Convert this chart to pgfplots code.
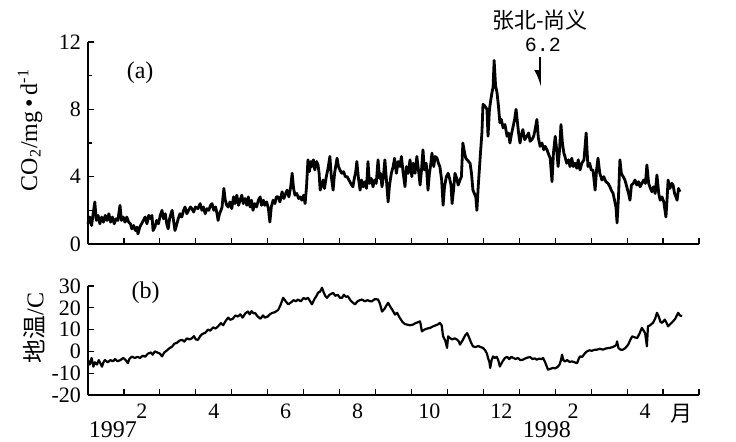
\documentclass[border=0pt]{standalone}
\usepackage{pgfplots}
\usepackage{pgfplotstable}
\pgfplotsset{compat=1.18}
\usepackage{fontspec}
\setmainfont{Liberation Serif}
\newfontfamily\cjk{Noto Sans CJK SC}
\newfontfamily\monof{Liberation Mono}
\usetikzlibrary{arrows.meta}

\pgfplotstableread{
x y
0.00 1.2
0.05 1.6
0.10 1.1
0.15 1.9
0.19 2.5
0.23 1.4
0.28 1.7
0.33 1.2
0.38 1.6
0.43 1.3
0.48 1.7
0.53 1.4
0.58 1.8
0.63 1.3
0.68 1.6
0.73 1.2
0.78 1.5
0.83 1.4
0.89 2.3
0.93 1.4
0.98 1.6
1.03 1.3
1.08 1.6
1.13 1.3
1.18 1.2
1.22 0.9
1.27 1.1
1.32 0.8
1.36 1.0
1.39 0.6
1.44 1.0
1.49 1.2
1.54 1.4
1.59 1.6
1.64 1.2
1.69 1.7
1.74 1.5
1.78 1.7
1.81 0.8
1.86 1.0
1.91 1.4
1.96 1.2
2.01 1.7
2.06 2.0
2.10 1.5
2.15 1.8
2.19 1.2
2.23 0.9
2.27 1.5
2.31 1.8
2.34 2.0
2.38 1.4
2.42 0.8
2.46 1.1
2.51 1.5
2.56 1.8
2.61 1.6
2.66 2.0
2.70 2.2
2.75 1.8
2.80 2.0
2.85 2.2
2.89 2.1
2.94 1.9
2.99 2.2
3.06 2.1
3.12 2.4
3.17 2.0
3.21 2.2
3.26 1.8
3.31 2.1
3.36 2.0
3.41 2.3
3.45 2.4
3.50 2.0
3.55 2.2
3.59 1.8
3.62 1.4
3.66 1.8
3.70 2.0
3.73 2.2
3.78 3.3
3.82 2.6
3.86 2.3
3.90 2.2
3.95 2.5
4.00 2.1
4.05 2.8
4.09 2.4
4.14 2.9
4.19 2.3
4.23 2.6
4.28 2.9
4.32 2.4
4.37 2.7
4.42 2.3
4.46 2.8
4.51 2.2
4.55 2.6
4.59 2.0
4.64 2.4
4.69 2.2
4.74 2.6
4.79 2.8
4.83 2.3
4.88 2.6
4.92 2.3
4.97 2.5
5.02 2.1
5.06 1.3
5.10 2.2
5.15 2.6
5.20 2.4
5.24 2.8
5.29 2.8
5.34 2.5
5.40 3.1
5.45 2.7
5.50 3.0
5.54 3.2
5.59 2.8
5.64 3.4
5.68 4.2
5.72 3.3
5.76 2.9
5.81 3.0
5.86 2.7
5.90 2.8
5.95 2.6
6.00 2.9
6.04 2.4
6.08 3.4
6.12 5.0
6.16 4.3
6.20 4.9
6.23 4.6
6.27 5.0
6.31 4.4
6.36 4.9
6.40 4.7
6.43 4.2
6.46 3.2
6.50 3.5
6.54 3.8
6.58 3.3
6.63 4.0
6.68 4.5
6.73 5.2
6.77 4.0
6.82 3.2
6.86 4.2
6.93 5.1
6.97 4.6
7.01 4.4
7.06 4.2
7.11 4.3
7.16 4.0
7.21 4.0
7.26 3.8
7.31 3.6
7.37 3.4
7.41 3.9
7.45 4.3
7.48 4.9
7.52 4.0
7.57 3.2
7.61 3.8
7.66 3.4
7.71 3.7
7.75 3.3
7.79 4.9
7.83 3.6
7.88 3.9
7.93 3.4
7.97 3.8
8.02 3.6
8.07 5.0
8.11 3.9
8.14 4.2
8.18 3.4
8.22 4.0
8.26 5.0
8.30 3.9
8.35 2.5
8.39 3.5
8.44 4.2
8.49 4.6
8.53 5.1
8.58 4.2
8.63 4.9
8.68 4.6
8.72 5.2
8.77 4.2
8.82 3.4
8.86 4.6
8.91 4.2
8.96 5.0
9.01 4.0
9.05 4.8
9.10 4.2
9.15 5.2
9.20 4.3
9.24 3.5
9.28 4.4
9.32 5.6
9.36 4.4
9.41 4.8
9.46 3.2
9.50 4.2
9.54 4.8
9.57 5.4
9.62 4.6
9.66 5.2
9.71 5.1
9.75 4.8
9.79 4.6
9.84 3.8
9.88 2.3
9.92 3.4
9.97 4.0
10.02 4.2
10.06 3.9
10.10 3.5
10.13 2.4
10.17 3.2
10.21 4.2
10.26 3.9
10.30 3.5
10.35 3.8
10.39 4.0
10.43 6.0
10.47 5.5
10.51 5.1
10.55 5.0
10.59 4.9
10.63 4.8
10.67 4.2
10.71 3.2
10.75 3.0
10.79 2.8
10.82 2.0
10.86 3.5
10.92 5.4
10.96 6.6
10.99 8.3
11.04 8.2
11.10 8.0
11.13 6.4
11.17 8.0
11.21 8.6
11.24 9.0
11.27 9.3
11.30 10.9
11.34 9.4
11.38 9.0
11.42 8.2
11.46 7.2
11.50 7.4
11.55 6.9
11.60 7.1
11.66 6.4
11.70 6.6
11.74 6.0
11.78 6.5
11.83 7.0
11.87 7.4
11.91 8.0
11.95 7.2
11.98 6.6
12.02 6.0
12.06 6.5
12.10 6.8
12.15 6.2
12.21 6.4
12.26 6.6
12.30 6.1
12.35 6.2
12.40 6.4
12.44 6.8
12.49 7.4
12.53 6.3
12.58 5.8
12.63 6.0
12.68 5.6
12.72 5.8
12.77 5.6
12.82 5.3
12.86 5.1
12.91 3.7
12.95 5.4
13.00 6.4
13.04 5.6
13.08 4.6
13.12 5.6
13.16 7.1
13.20 6.0
13.24 5.4
13.27 5.2
13.32 4.8
13.37 5.0
13.41 4.6
13.46 5.1
13.50 4.6
13.55 4.8
13.60 4.5
13.64 5.0
13.69 4.4
13.74 4.8
13.80 5.0
13.86 6.6
13.91 4.6
13.96 4.8
14.00 4.4
14.05 4.4
14.11 3.2
14.15 4.4
14.19 5.1
14.24 4.2
14.30 3.8
14.35 4.0
14.41 3.7
14.47 3.6
14.52 3.4
14.56 3.2
14.61 3.0
14.65 2.6
14.69 2.2
14.72 1.25
14.76 2.8
14.80 5.0
14.84 4.2
14.89 4.0
14.94 3.8
14.99 3.4
15.04 3.0
15.08 2.6
15.12 3.5
15.17 3.6
15.22 3.8
15.27 3.5
15.32 3.7
15.36 3.4
15.41 3.6
15.46 3.8
15.51 3.6
15.55 4.7
15.60 3.6
15.65 3.3
15.69 3.1
15.74 3.4
15.78 3.0
15.83 4.1
15.88 3.0
15.92 2.6
15.97 2.8
16.02 2.5
16.08 1.6
16.11 2.6
16.14 3.8
16.19 3.3
16.24 3.6
16.28 3.5
16.32 3.0
16.36 2.8
16.39 2.6
16.43 3.3
16.47 3.1
}\coData

\pgfplotstableread{
x y
0.00 -4
0.05 -6
0.10 -3
0.15 -7
0.19 -5
0.25 -6
0.30 -4
0.39 -7
0.43 -5
0.47 -4
0.55 -5
0.62 -4
0.70 -4.5
0.75 -3.5
0.82 -4.5
0.90 -4
0.98 -3
1.05 -4
1.11 -5.4
1.15 -3.5
1.22 -2.4
1.30 -3
1.38 -2.5
1.45 -3
1.52 -2
1.59 -2.4
1.67 -1
1.75 -0.5
1.80 -1.5
1.86 0
1.93 -0.5
2.00 -1
2.06 -2.3
2.12 -0.5
2.20 0.5
2.27 1.5
2.34 2.2
2.40 3.5
2.48 4
2.55 5
2.62 5.3
2.68 4.5
2.75 6
2.82 5.5
2.89 6
2.95 7
3.00 5.5
3.06 5.3
3.12 7
3.18 8
3.26 8.5
3.34 10
3.40 9.5
3.48 11
3.55 10.5
3.62 11.5
3.70 13
3.76 12
3.83 14
3.90 15.5
3.96 14.5
4.03 15
4.10 16.5
4.17 16
4.24 17
4.30 15.5
4.38 17.5
4.45 18.3
4.50 17
4.55 18.5
4.60 17.5
4.65 17.6
4.72 16
4.80 15
4.87 16.5
4.92 15.5
5.00 16
5.06 17
5.12 17.6
5.20 18
5.29 19
5.35 21
5.43 24.6
5.50 23
5.57 21.6
5.65 22.5
5.72 23.5
5.79 23
5.84 23.8
5.92 23
6.00 24.5
6.06 24
6.12 24.6
6.18 23
6.23 21.6
6.30 24
6.36 25.5
6.40 26.9
6.46 27.5
6.51 29.2
6.56 27
6.60 25.5
6.65 24.6
6.72 26
6.78 26.5
6.82 26.9
6.88 25.5
6.95 26
7.01 24.6
7.07 24.6
7.12 26
7.18 25
7.23 25.3
7.30 23.5
7.36 22.5
7.43 21.6
7.50 23
7.56 23.5
7.62 23.8
7.70 23
7.78 23.5
7.85 23
7.90 23
7.98 24
8.07 23.8
8.12 22
8.18 18.3
8.25 19.5
8.30 21
8.35 22.3
8.40 20.8
8.47 19
8.54 16.9
8.60 17.7
8.67 15.5
8.75 13.5
8.82 12.5
8.88 12.3
8.96 12
9.04 12.3
9.12 13
9.20 13.5
9.24 13.8
9.29 9.2
9.36 10
9.44 10.5
9.52 10.8
9.60 11.5
9.68 12
9.75 12.5
9.79 13.1
9.84 12
9.88 6.9
9.94 5
9.99 1.6
10.02 6.9
10.08 6
10.14 5.5
10.20 6
10.27 5.4
10.32 4.5
10.35 3.1
10.42 5
10.50 7.5
10.55 8.4
10.60 6.5
10.66 4
10.71 2.3
10.78 2
10.86 2.5
10.92 2
10.99 1.6
11.05 0.5
11.10 -1
11.13 -3.0
11.17 -5
11.19 -7.6
11.23 -4
11.27 -2.3
11.32 -3
11.37 -2.5
11.41 -3.8
11.46 -6.9
11.52 -5
11.60 -3.0
11.66 -2.5
11.72 -3.5
11.78 -2.5
11.83 -3.0
11.90 -3.5
11.96 -3
12.03 -4
12.10 -3.8
12.17 -3.2
12.24 -2.8
12.30 -2.6
12.37 -3.5
12.43 -3.2
12.49 -3.8
12.55 -3.3
12.62 -3.5
12.66 -3.0
12.72 -5
12.80 -8.4
12.86 -8
12.94 -7.6
13.00 -7.8
13.08 -6.9
13.12 -6
13.16 -4
13.19 -1.5
13.23 -4
13.27 -4.6
13.33 -4
13.40 -4.8
13.47 -4.6
13.54 -5
13.61 -5.4
13.65 -3.5
13.69 -2.3
13.75 -2.5
13.82 -1
13.88 0
13.95 0.5
14.02 0.3
14.10 0.8
14.16 0.8
14.24 1.2
14.33 0.8
14.40 1.3
14.46 1.5
14.52 1.6
14.60 2
14.66 2.5
14.70 3
14.72 4.6
14.76 1.5
14.82 0.8
14.88 0.8
14.95 1.5
15.03 3.1
15.08 5
15.14 6.9
15.20 6.5
15.28 6.1
15.34 8
15.41 10.8
15.46 9.5
15.50 8.4
15.53 5
15.55 2.3
15.58 11.5
15.64 12
15.72 13.1
15.78 15
15.83 17.7
15.88 16
15.93 13.5
15.97 13.1
16.02 14
16.05 14.6
16.10 13
16.14 11.5
16.20 12.5
16.28 13.8
16.34 15
16.42 17.7
16.47 16.5
16.53 16.2
}\tempData

\begin{document}
\begin{tikzpicture}
\path[use as bounding box] (0,0) rectangle (368pt,220.5pt);
\pgfplotsset{
  base/.style={
    scale only axis, width=305.5pt,
    xmin=0, xmax=17, enlargelimits=false,
    axis x line*=bottom, axis y line*=left,
    axis line style={-, line width=0.7pt},
    tick align=inside, major tick length=3pt, minor tick length=2pt,
    tick style={black, line width=0.6pt},
    tick label style={font=\fontsize{11}{13}\selectfont},
    /pgf/number format/assume math mode=true,
    clip=false,
  }
}
\begin{axis}[base, at={(44pt,98.5pt)}, anchor=south west, height=101pt,
  ymin=0, ymax=12, ytick={0,4,8,12}, minor ytick={2,6,10},
  xtick={1,...,17}, xticklabels={}]
\addplot[black, line width=1.4pt, line join=round] table {\coData};
\node at (axis cs:1.45,10.2) {\fontsize{12}{14}\selectfont (a)};
\draw[-{Latex[harpoon,swap,length=7pt,width=6pt]}, line width=0.8pt] (axis cs:12.58,11.1) -- (axis cs:12.58,9.33);
\end{axis}

\begin{axis}[base, at={(44pt,23pt)}, anchor=south west, height=54.5pt,
  ymin=-20, ymax=30, ytick={-20,-10,0,10,20,30},
  xtick={1,...,17}, xticklabels={},
  extra x ticks={1.5,3.5,5.5,7.5,9.5,11.5,13.5,15.5,16.5},
  extra x tick labels={2,4,6,8,10,12,2,4,{\cjk 月}},
  extra x tick style={major tick length=0pt, xticklabel style={yshift=-1pt}}]
\addplot[black, line width=1.1pt, line join=round] table {\tempData};
\node at (axis cs:1.6,27) {\fontsize{12}{14}\selectfont (b)};
\end{axis}

\node[rotate=90] at (15pt,155.5pt) {\fontsize{12}{14}\selectfont CO\textsubscript{2}/mg\,\textbullet\,d\textsuperscript{-1}};
\node[rotate=90] at (17pt,56.5pt) {\fontsize{12}{14}\selectfont {\cjk 地温}/C};
\node at (56.5pt,5.5pt) {\fontsize{12}{14}\selectfont 1997};
\node at (273.5pt,5.5pt) {\fontsize{12}{14}\selectfont 1998};
\node at (270pt,210.5pt) {\cjk\fontsize{11}{13}\selectfont 张北-尚义};
\node at (271.5pt,198pt) {\monof\fontsize{10}{12}\selectfont 6.2};
\end{tikzpicture}
\end{document}
